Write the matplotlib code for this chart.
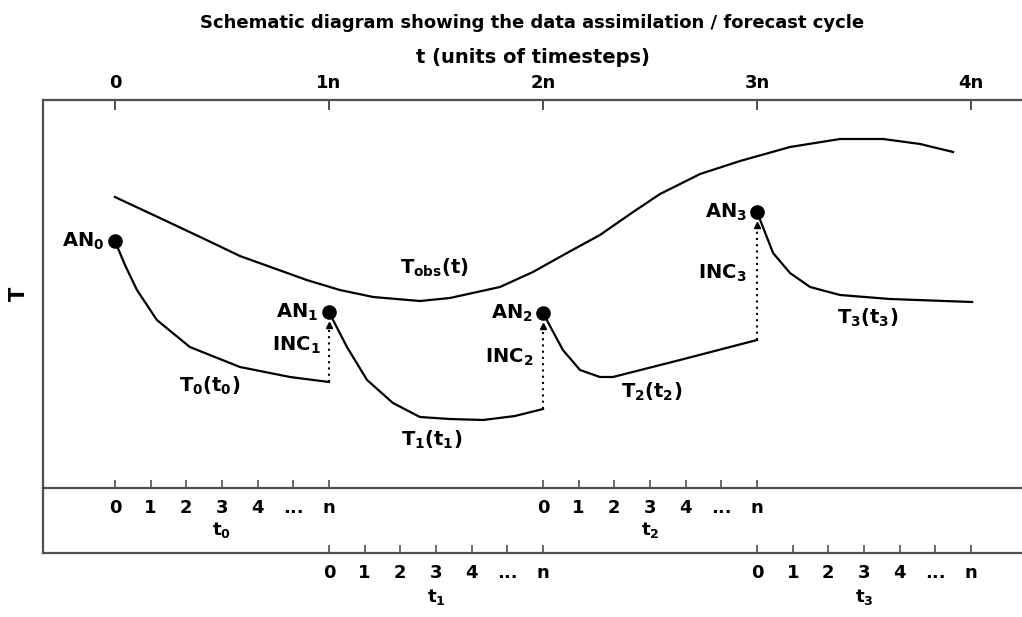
import numpy as np
import matplotlib
matplotlib.use('Agg')
import matplotlib.pyplot as plt

# police sans-serif grasse et large comme la figure d'origine
plt.rcParams['font.family'] = ['DejaVu Sans']
plt.rcParams['font.weight'] = 'bold'
plt.rcParams['axes.labelweight'] = 'bold'
plt.rcParams['mathtext.fontset'] = 'dejavusans'
plt.rcParams['mathtext.default'] = 'bf'

# donnees (temps en unites de n, T en unites arbitraires)
cycles = [0, 1, 2, 3, 4]
cycle_labels = ['0', '1n', '2n', '3n', '4n']
step_labels = ['0', '1', '2', '3', '4', '...', 'n']

tobs_t = [0.0, 0.21, 0.428, 0.584, 0.74, 0.896, 1.051, 1.207, 1.425, 1.565,
          1.799, 1.953, 2.112, 2.266, 2.421, 2.547, 2.734, 2.921, 3.154,
          3.388, 3.589, 3.762, 3.916]
tobs_T = [291, 270, 248, 232, 220, 208, 198, 191, 187, 190,
          201, 216, 235, 253, 276, 294, 314, 327, 341,
          349, 349, 344, 336]

t0_t = [0.0, 0.047, 0.103, 0.196, 0.350, 0.584, 0.818, 1.0]
t0_T = [247, 223, 198, 168, 141, 121, 111, 106]

t1_t = [1.0, 1.084, 1.178, 1.299, 1.425, 1.565, 1.720, 1.869, 2.0]
t1_T = [176, 141, 108, 85, 71, 69, 68, 72, 79]

t2_t = [2.0, 2.093, 2.173, 2.266, 2.327, 2.640, 3.0]
t2_T = [175, 138, 118, 111, 111, 128, 148]

t3_t = [3.0, 3.075, 3.154, 3.248, 3.388, 3.621, 4.005]
t3_T = [276, 235, 215, 201, 193, 189, 186]

forecasts = [(t0_t, t0_T), (t1_t, t1_T), (t2_t, t2_T), (t3_t, t3_T)]

axis_col = '#505050'

fig = plt.figure(figsize=(10.22, 6.17), dpi=100)
ax = fig.add_axes([43 / 1022, 1 - 488 / 617, 1 - 43 / 1022, 388 / 617])
ax.set_xlim(-0.336, 4.238)
ax.set_ylim(0, 388)

for s in ['left', 'top', 'bottom']:
    ax.spines[s].set_color(axis_col)
    ax.spines[s].set_linewidth(1.6)
ax.spines['right'].set_visible(False)

# courbe observee
ax.plot(tobs_t, tobs_T, color='black', lw=1.6)

# previsions et analyses
for k, (tt, TT) in enumerate(forecasts):
    ax.plot(tt, TT, color='black', lw=1.6)
    ax.plot(tt[0], TT[0], 'o', color='black', ms=9.5)
    if k > 0:
        prev_T = forecasts[k - 1][1][-1]
        ax.plot([tt[0], tt[0]], [prev_T, TT[0] - 12], color='black', lw=1.5,
                linestyle=(0, (1, 2)))
        ax.plot(tt[0], TT[0] - 13, marker='^', color='black', ms=5, lw=0)

# etiquettes
fs = 14
ax.text(-0.05, 247, 'AN$_0$', ha='right', va='center', fontsize=fs)
ax.text(0.952, 176, 'AN$_1$', ha='right', va='center', fontsize=fs)
ax.text(1.952, 175, 'AN$_2$', ha='right', va='center', fontsize=fs)
ax.text(2.952, 276, 'AN$_3$', ha='right', va='center', fontsize=fs)
ax.text(0.962, 143, 'INC$_1$', ha='right', va='center', fontsize=fs)
ax.text(1.957, 131, 'INC$_2$', ha='right', va='center', fontsize=fs)
ax.text(2.953, 215, 'INC$_3$', ha='right', va='center', fontsize=fs)
ax.text(0.444, 102, 'T$_0$(t$_0$)', ha='center', va='center', fontsize=fs)
ax.text(1.481, 48, 'T$_1$(t$_1$)', ha='center', va='center', fontsize=fs)
ax.text(2.509, 96, 'T$_2$(t$_2$)', ha='center', va='center', fontsize=fs)
ax.text(3.519, 170, 'T$_3$(t$_3$)', ha='center', va='center', fontsize=fs)
ax.text(1.495, 220, 'T$_{obs}$(t)', ha='center', va='center', fontsize=fs)

ax.set_yticks([])
ax.set_ylabel('T', fontsize=15, fontweight='bold', labelpad=10)

# axe du haut : cycles
top = ax.secondary_xaxis('top')
top.set_xticks(cycles, cycle_labels)
top.tick_params(direction='in', length=7, width=1.4, color=axis_col, pad=6,
                labelsize=13)
top.spines['top'].set_visible(False)
top.set_xlabel('t (units of timesteps)', fontsize=14, fontweight='bold',
               labelpad=8)
ax.set_title('Schematic diagram showing the data assimilation / forecast cycle',
             fontsize=13, fontweight='bold', pad=52)

# axe du bas : pas de temps des cycles 0 et 2
bot_ticks = [c + k / 6 for c in (0, 2) for k in range(7)]
ax.set_xticks(bot_ticks, step_labels * 2)
ax.tick_params(axis='x', direction='in', length=6, width=1.2, color=axis_col,
               pad=8, labelsize=13)

# second axe du bas : cycles 1 et 3
low_pos = -65 / 388
low = ax.secondary_xaxis(low_pos)
low.set_xticks([c + k / 6 for c in (1, 3) for k in range(7)], step_labels * 2)
low.tick_params(direction='in', length=6, width=1.2, color=axis_col, pad=8,
                labelsize=13)
low.spines['bottom'].set_color(axis_col)
low.spines['bottom'].set_linewidth(1.6)

# prolongement de l'axe gauche
ax.plot([0, 0], [0, low_pos], transform=ax.transAxes, color=axis_col, lw=1.6,
        clip_on=False)

# noms des axes de pas de temps
for c in range(4):
    y_lab = -42 / 388 if c % 2 == 0 else low_pos - 44 / 388
    ax.text(c + 0.5, y_lab, 't$_%d$' % c, ha='center', va='center', fontsize=13,
            transform=ax.get_xaxis_transform(), clip_on=False)

fig.savefig('out.png', dpi=100)
